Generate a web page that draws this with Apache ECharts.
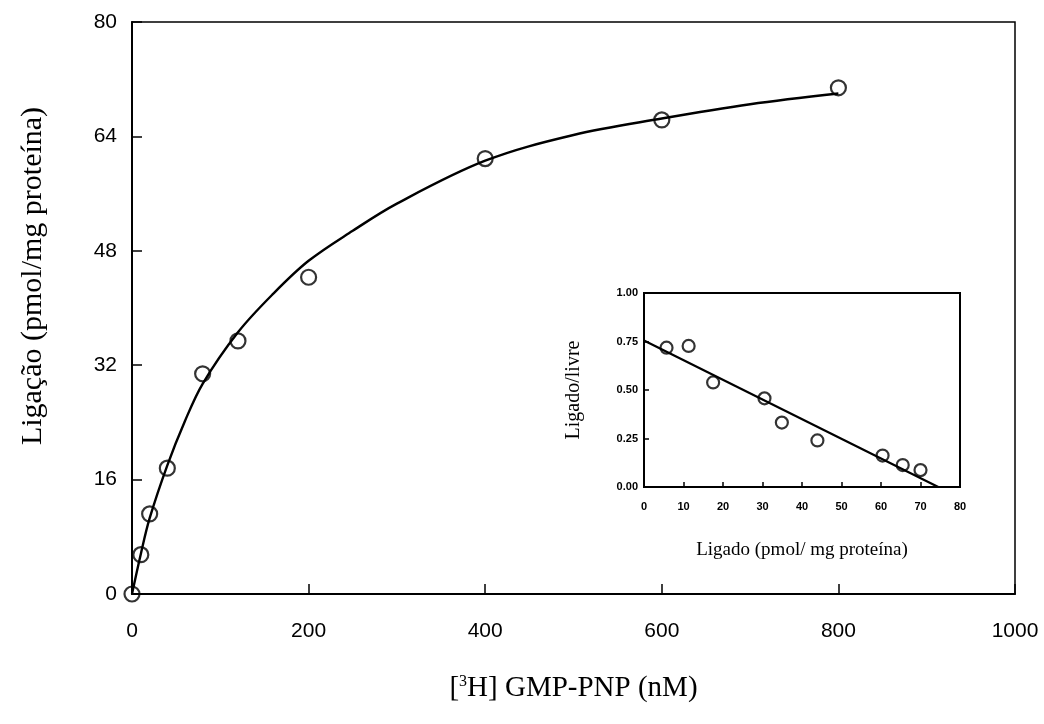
<!DOCTYPE html>
<html>
<head>
<meta charset="utf-8">
<script src="https://cdn.jsdelivr.net/npm/echarts@6/dist/echarts.min.js"></script>
<style>html,body{margin:0;padding:0;background:#fff}#c{width:1044px;height:724px}</style>
</head>
<body>
<div id="c"></div>
<script>
// Main chart: binding data (points)
const mainX = [0, 10, 20, 40, 80, 120, 200, 400, 600, 800];
const mainY = [0, 5.5, 11.2, 17.6, 30.8, 35.4, 44.3, 60.9, 66.3, 70.8];
// Main chart: fitted curve
const fitX = [0, 10, 20, 40, 60, 80, 120, 160, 200, 250, 300, 400, 500, 600, 700, 800];
const fitY = [0, 5.6, 10.6, 18.0, 24.2, 29.4, 36.6, 42.0, 46.6, 50.8, 54.6, 60.6, 64.2, 66.5, 68.5, 70.0];
// Inset (Scatchard): points
const inX = [5.7, 11.3, 17.5, 30.5, 34.9, 43.9, 60.4, 65.5, 70.0];
const inY = [0.718, 0.727, 0.539, 0.457, 0.332, 0.240, 0.162, 0.113, 0.087];
// Inset regression line
const inLineX = [0, 74.5];
const inLineY = [0.755, 0];

const zip = (a, b) => a.map((v, i) => [v, b[i]]);

const serif = '"Liberation Serif", "Times New Roman", serif';
const sans = '"Liberation Sans", Arial, sans-serif';

const chart = echarts.init(document.getElementById('c'), null, {renderer: 'canvas'});
chart.setOption({
  backgroundColor: '#fff',
  animation: false,
  grid: [
    {left: 132, top: 22, right: 29, bottom: 130, show: true, borderColor: '#000', borderWidth: 1.5, backgroundColor: 'transparent'},
    {left: 644, top: 293, width: 316, height: 194, show: true, borderColor: '#000', borderWidth: 2, backgroundColor: '#fff', z: 5}
  ],
  xAxis: [
    {
      type: 'value', gridIndex: 0, min: 0, max: 1000, interval: 200,
      name: '[{sup|3}H] GMP-PNP (nM)', nameLocation: 'middle', nameGap: 80,
      nameTextStyle: {
        fontFamily: serif, fontSize: 29, color: '#000',
        rich: {sup: {fontFamily: serif, fontSize: 16, color: '#000', verticalAlign: 'top', padding: [0, 0, 12, 0]}}
      },
      axisLine: {lineStyle: {color: '#000', width: 2}},
      axisTick: {inside: true, length: 10, lineStyle: {color: '#000', width: 1.5}},
      axisLabel: {fontFamily: sans, fontSize: 21, color: '#000', margin: 27, formatter: v => String(v)},
      splitLine: {show: false}
    },
    {
      type: 'value', gridIndex: 1, min: 0, max: 80, interval: 10,
      name: 'Ligado (pmol/ mg proteína)', nameLocation: 'middle', nameGap: 54,
      nameTextStyle: {fontFamily: serif, fontSize: 19, color: '#000'},
      axisLine: {lineStyle: {color: '#000', width: 2}},
      axisTick: {inside: true, length: 5, lineStyle: {color: '#000', width: 1.5}},
      axisLabel: {fontFamily: sans, fontSize: 11, fontWeight: 'bold', color: '#000', margin: 14},
      splitLine: {show: false}, z: 6
    }
  ],
  yAxis: [
    {
      type: 'value', gridIndex: 0, min: 0, max: 80, interval: 16,
      axisLine: {lineStyle: {color: '#000', width: 2}},
      axisTick: {inside: true, length: 10, lineStyle: {color: '#000', width: 1.5}},
      axisLabel: {fontFamily: sans, fontSize: 21, color: '#000', margin: 15},
      splitLine: {show: false}
    },
    {
      type: 'value', gridIndex: 1, min: 0, max: 1, interval: 0.25,
      name: 'Ligado/livre', nameLocation: 'middle', nameGap: 60, nameRotate: 90,
      nameTextStyle: {fontFamily: serif, fontSize: 20, color: '#000'},
      axisLine: {lineStyle: {color: '#000', width: 2}},
      axisTick: {inside: true, length: 5, lineStyle: {color: '#000', width: 1.5}},
      axisLabel: {fontFamily: sans, fontSize: 11, fontWeight: 'bold', color: '#000', margin: 6,
        formatter: v => v.toFixed(2)},
      splitLine: {show: false}, z: 6
    }
  ],
  graphic: [
    {
      type: 'text', x: 33, y: 276, rotation: Math.PI / 2,
      style: {text: 'Ligação (pmol/mg proteína)', fontFamily: serif, fontSize: 30, fill: '#000',
        align: 'center', verticalAlign: 'middle'}
    }
  ],
  series: [
    {
      type: 'line', xAxisIndex: 0, yAxisIndex: 0, data: zip(fitX, fitY),
      smooth: 0.35, showSymbol: false, lineStyle: {color: '#000', width: 2.4}, z: 2
    },
    {
      type: 'scatter', xAxisIndex: 0, yAxisIndex: 0, data: zip(mainX, mainY),
      symbol: 'circle', symbolSize: 15,
      itemStyle: {color: 'rgba(255,255,255,0)', borderColor: '#000', borderWidth: 2.2}, z: 3
    },
    {
      type: 'line', xAxisIndex: 1, yAxisIndex: 1, data: zip(inLineX, inLineY),
      showSymbol: false, lineStyle: {color: '#000', width: 2.2}, z: 7
    },
    {
      type: 'scatter', xAxisIndex: 1, yAxisIndex: 1, data: zip(inX, inY),
      symbol: 'circle', symbolSize: 12,
      itemStyle: {color: 'rgba(255,255,255,0)', borderColor: '#000', borderWidth: 2.2}, z: 8
    }
  ]
});
</script>
</body>
</html>
